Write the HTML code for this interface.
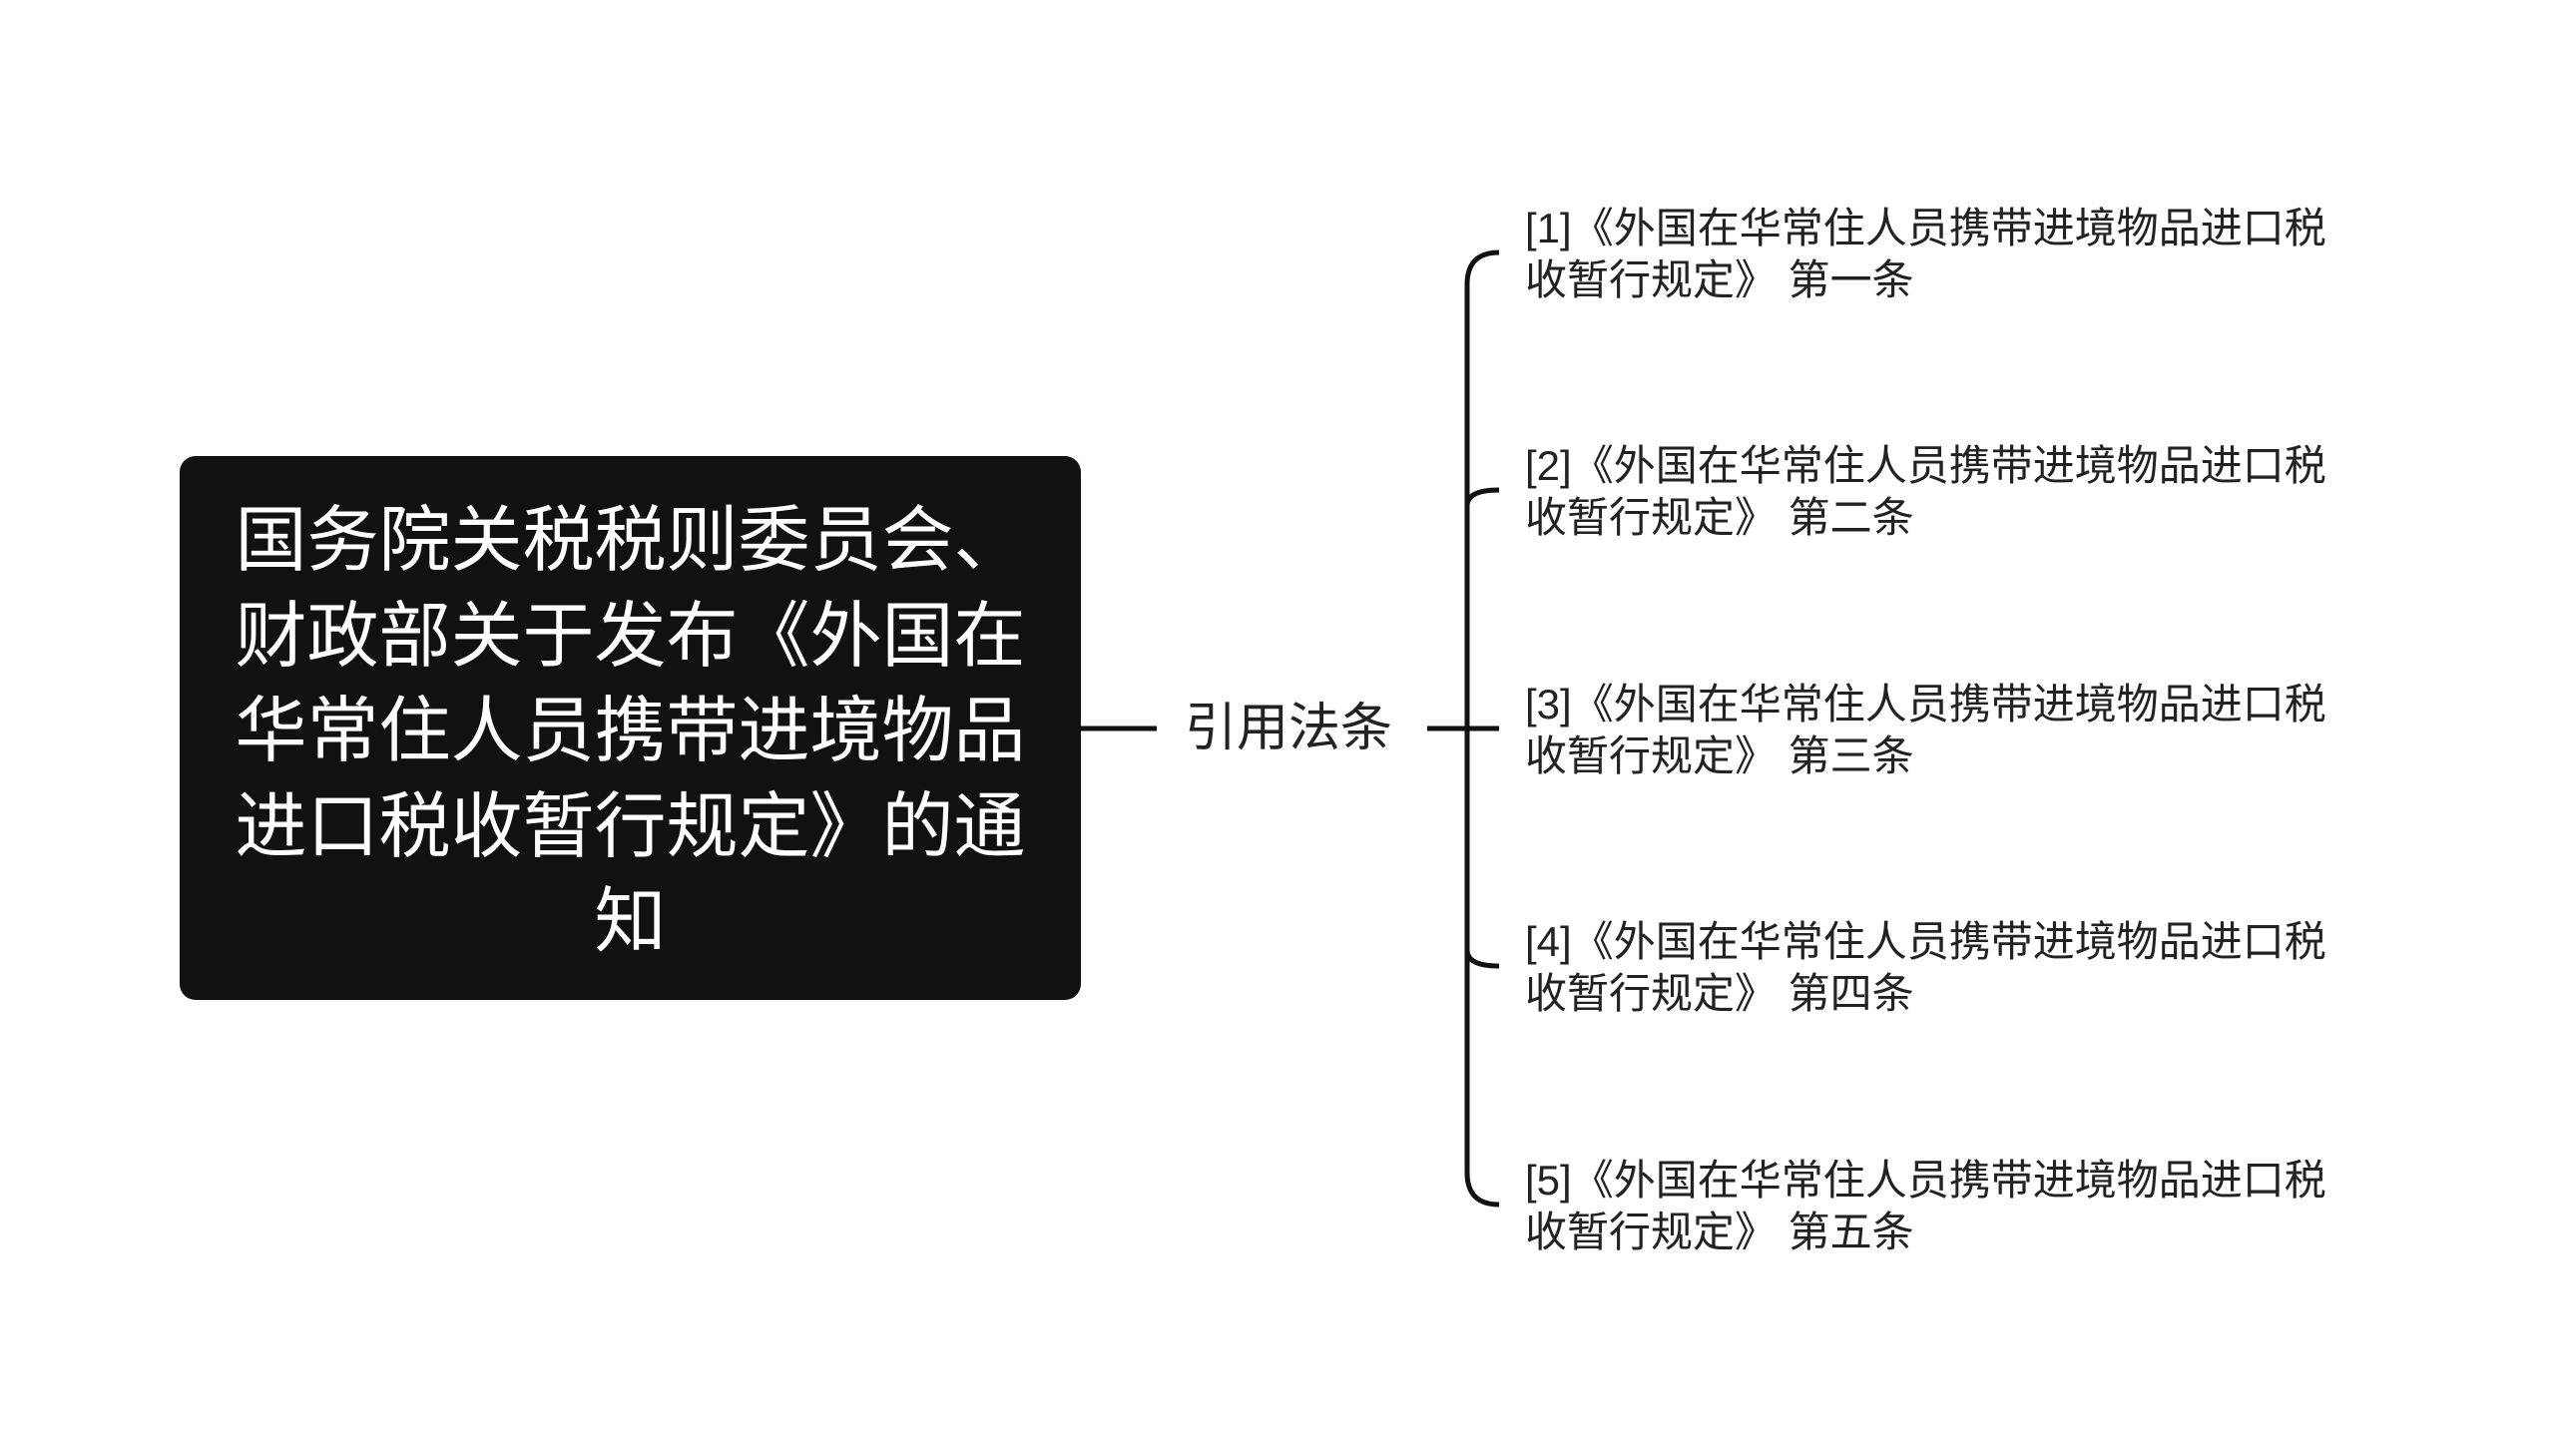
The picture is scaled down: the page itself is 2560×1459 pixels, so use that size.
<!DOCTYPE html>
<html><head><meta charset="utf-8"><style>
html,body{margin:0;padding:0;background:#fff;}
body{width:2560px;height:1459px;position:relative;overflow:hidden;font-family:"Liberation Sans","Noto Sans CJK SC",sans-serif;}
.root{position:absolute;left:180px;top:457px;width:903px;height:545px;background:#111;border-radius:16px;color:#fff;font-size:72px;line-height:95.5px;text-align:center;box-sizing:border-box;padding:38px 55px 0 55px;}
.mid{position:absolute;left:1187px;top:695px;font-size:52px;line-height:70px;color:#222;}
.leaf{position:absolute;left:1528px;font-size:42px;line-height:52px;color:#222;width:900px;}
svg{position:absolute;left:0;top:0;}
</style></head><body>
<svg width="2560" height="1459">
<g stroke="#111" stroke-width="5" fill="none">
<line x1="1083" y1="730" x2="1159" y2="730"/>
<line x1="1430" y1="730" x2="1502" y2="730"/>
<path d="M1502 253 Q1470 253 1470 285 L1470 1175 Q1470 1207 1502 1207"/>
<path d="M1470 507 Q1470 491 1502 491"/>
<path d="M1470 952 Q1470 968 1502 968"/>
</g>
</svg>
<div class="root">国务院关税税则委员会、财政部关于发布《外国在华常住人员携带进境物品进口税收暂行规定》的通知</div>
<div class="mid">引用法条</div>
<div class="leaf" style="top:203px">[1]《外国在华常住人员携带进境物品进口税<br>收暂行规定》 第一条</div>
<div class="leaf" style="top:441px">[2]《外国在华常住人员携带进境物品进口税<br>收暂行规定》 第二条</div>
<div class="leaf" style="top:680px">[3]《外国在华常住人员携带进境物品进口税<br>收暂行规定》 第三条</div>
<div class="leaf" style="top:918px">[4]《外国在华常住人员携带进境物品进口税<br>收暂行规定》 第四条</div>
<div class="leaf" style="top:1157px">[5]《外国在华常住人员携带进境物品进口税<br>收暂行规定》 第五条</div>
</body></html>
